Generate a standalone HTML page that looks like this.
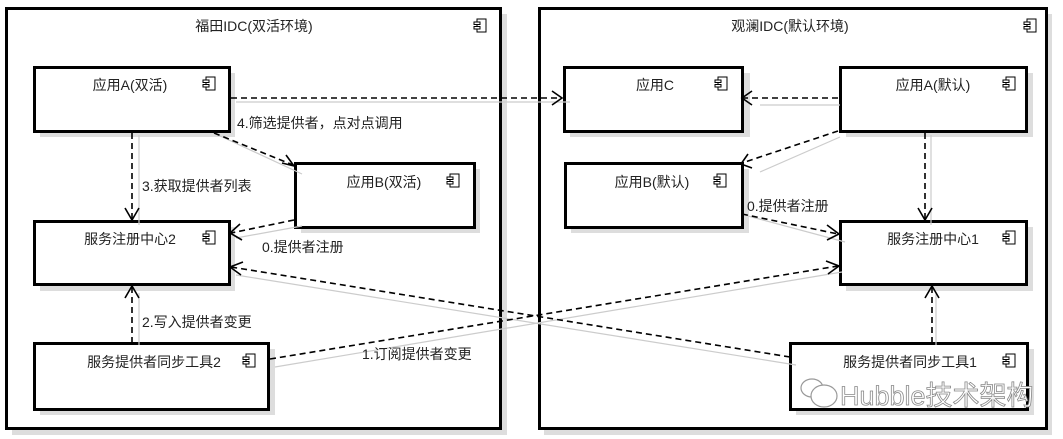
<!DOCTYPE html>
<html><head><meta charset="utf-8"><style>
html,body{margin:0;padding:0;background:#fff;}
svg{display:block;}
text{font-family:"Liberation Sans","Noto Sans CJK SC",sans-serif;font-size:14px;fill:#222;}
</style></head><body>
<svg width="1063" height="439" viewBox="0 0 1063 439">
<defs>
<g id="ic"><rect x="3" y="0" width="9" height="13" fill="#fff" stroke="#000" stroke-width="1"/><rect x="0" y="3" width="6" height="2.5" fill="#fff" stroke="#000" stroke-width="1"/><rect x="0" y="7.5" width="6" height="2.5" fill="#fff" stroke="#000" stroke-width="1"/></g>
</defs>
<rect x="12" y="14" width="495" height="421" fill="#ddd"/>
<rect x="544" y="14" width="508" height="421" fill="#ddd"/>
<rect x="6.5" y="8.5" width="494" height="420" fill="#fff" stroke="#000" stroke-width="3"/>
<rect x="539.5" y="8.5" width="507" height="420" fill="#fff" stroke="#000" stroke-width="3"/>
<text x="254" y="31" text-anchor="middle">福田IDC(双活环境)</text>
<text x="790" y="31" text-anchor="middle">观澜IDC(默认环境)</text>
<use href="#ic" x="474" y="19"/>
<use href="#ic" x="1024" y="19"/>

<g><rect x="40" y="73" width="195" height="64" fill="#ddd"/><rect x="34.5" y="67.5" width="195" height="64" fill="#fff" stroke="#000" stroke-width="3"/><text x="130" y="90" text-anchor="middle">应用A(双活)</text><use href="#ic" x="203" y="77"/></g>
<g><rect x="301" y="169" width="179" height="64" fill="#ddd"/><rect x="295.5" y="163.5" width="179" height="64" fill="#fff" stroke="#000" stroke-width="3"/><text x="384" y="187" text-anchor="middle">应用B(双活)</text><use href="#ic" x="447" y="174"/></g>
<g><rect x="40" y="227" width="195" height="64" fill="#ddd"/><rect x="34.5" y="221.5" width="195" height="63" fill="#fff" stroke="#000" stroke-width="3"/><text x="130" y="244" text-anchor="middle">服务注册中心2</text><use href="#ic" x="203" y="231"/></g>
<g><rect x="40" y="349" width="235" height="66" fill="#ddd"/><rect x="34.5" y="343.5" width="234" height="66" fill="#fff" stroke="#000" stroke-width="3"/><text x="154" y="367" text-anchor="middle">服务提供者同步工具2</text><use href="#ic" x="243" y="354"/></g>

<g><rect x="570" y="73" width="180" height="64" fill="#ddd"/><rect x="564.5" y="67.5" width="178" height="64" fill="#fff" stroke="#000" stroke-width="3"/><text x="655" y="90" text-anchor="middle">应用C</text><use href="#ic" x="715" y="77"/></g>
<g><rect x="846" y="73" width="187" height="64" fill="#ddd"/><rect x="840.5" y="67.5" width="186" height="64" fill="#fff" stroke="#000" stroke-width="3"/><text x="933" y="90" text-anchor="middle">应用A(默认)</text><use href="#ic" x="1003" y="77"/></g>
<g><rect x="571" y="169" width="178" height="64" fill="#ddd"/><rect x="565.5" y="163.5" width="177" height="64" fill="#fff" stroke="#000" stroke-width="3"/><text x="652" y="187" text-anchor="middle">应用B(默认)</text><use href="#ic" x="714" y="174"/></g>
<g><rect x="846" y="227" width="187" height="64" fill="#ddd"/><rect x="840.5" y="221.5" width="186" height="63" fill="#fff" stroke="#000" stroke-width="3"/><text x="933" y="244" text-anchor="middle">服务注册中心1</text><use href="#ic" x="1003" y="231"/></g>
<g><rect x="796" y="349" width="238" height="66" fill="#ddd"/><rect x="790.5" y="343.5" width="237" height="66" fill="#fff" stroke="#000" stroke-width="3"/><text x="910" y="367" text-anchor="middle">服务提供者同步工具1</text><use href="#ic" x="1003" y="354"/></g>

<g stroke="#ccc" stroke-width="1.2" fill="none">
<line x1="236" y1="102" x2="570" y2="102"/>
<line x1="218" y1="135" x2="302" y2="174"/>
<line x1="139" y1="135" x2="139" y2="225"/>
<line x1="302" y1="226" x2="236" y2="238"/>
<line x1="840" y1="105" x2="760" y2="105"/>
<line x1="840" y1="137" x2="760" y2="172"/>
<line x1="931" y1="135" x2="931" y2="225"/>
<line x1="748" y1="216" x2="845" y2="242"/>
<line x1="139" y1="345" x2="139" y2="293"/>
<line x1="275" y1="367" x2="842" y2="272"/>
<line x1="796" y1="365" x2="236" y2="275"/>
<line x1="936" y1="345" x2="936" y2="293"/>
</g>
<g stroke="#000" stroke-width="1.6" fill="none" stroke-dasharray="6,4">
<line x1="231" y1="98" x2="561" y2="98"/>
<line x1="214" y1="133" x2="293" y2="165"/>
<line x1="132" y1="133" x2="132" y2="219"/>
<line x1="294" y1="220" x2="231" y2="233"/>
<line x1="838" y1="98" x2="742" y2="98"/>
<line x1="838" y1="131" x2="742" y2="163"/>
<line x1="925" y1="133" x2="925" y2="219"/>
<line x1="742" y1="214" x2="838" y2="234"/>
<line x1="132" y1="343" x2="132" y2="287"/>
<line x1="270" y1="359" x2="838" y2="266"/>
<line x1="790" y1="357" x2="231" y2="267"/>
<line x1="932" y1="343" x2="932" y2="287"/>
</g>
<g stroke="#000" stroke-width="1.6" fill="none">
<polyline points="552,91 562,98 552,105"/>
<polyline points="282,163 294,166 286,155"/>
<polyline points="125,208 132,220 139,208"/>
<polyline points="240,224 230,233 242,240"/>
<polyline points="752,91 742,98 752,105"/>
<polyline points="748,154 741,164 752,168"/>
<polyline points="918,208 925,220 932,208"/>
<polyline points="827,225 839,234 827,240"/>
<polyline points="125,298 132,286 139,298"/>
<polyline points="826,261 839,266 828,274"/>
<polyline points="243,262 230,267 241,275"/>
<polyline points="925,298 932,286 939,298"/>
</g>
<text x="237" y="128">4.筛选提供者，点对点调用</text>
<text x="142" y="191">3.获取提供者列表</text>
<text x="262" y="252">0.提供者注册</text>
<text x="747" y="211">0.提供者注册</text>
<text x="142" y="327">2.写入提供者变更</text>
<text x="362" y="359">1.订阅提供者变更</text>
<g fill="none" stroke="#999" stroke-width="1.2">
<ellipse cx="812" cy="388" rx="11" ry="9" fill="#fff"/>
<ellipse cx="824" cy="396" rx="13" ry="11" fill="#fff"/>
</g>
<text x="840" y="405" style="font-size:27px;fill:#fff;stroke:#888;stroke-width:0.8">Hubble技术架构</text>
</svg>
</body></html>
